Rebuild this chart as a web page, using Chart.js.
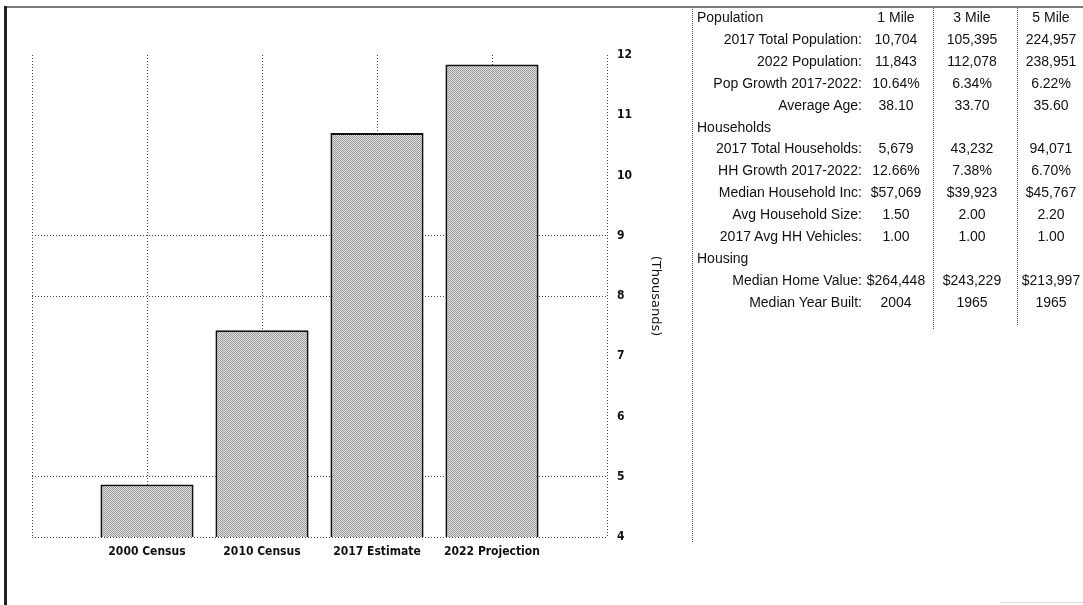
<!DOCTYPE html>
<html>
<head>
<meta charset="utf-8">
<script src="https://cdn.jsdelivr.net/npm/chart.js@4.4.1/dist/chart.umd.min.js"></script>
<style>
  html, body { margin: 0; padding: 0; background: #fff; }
  body { width: 1083px; height: 605px; position: relative; overflow: hidden; }
  #frame-top  { position: absolute; left: 4px; top: 6px; width: 1079px; height: 2px; background: #7a7a7a; }
  #frame-left { position: absolute; left: 4px; top: 6px; width: 3px; height: 599px; background: #222; }
  #chart-box  { position: absolute; left: 0; top: 0; width: 690px; height: 605px; }
  #table-box  { position: absolute; left: 0; top: 0; width: 1083px; height: 605px;
                font-family: "Liberation Sans", Arial, sans-serif; font-size: 14px; color: #111; }
  .row   { position: absolute; left: 0; width: 1083px; height: 21.9px; line-height: 21.9px; white-space: nowrap; }
  .lab   { position: absolute; left: 662px; width: 200px; text-align: right; }
  .sec   { position: absolute; left: 697px; }
  .val   { position: absolute; width: 90px; text-align: center; }
  .vline { position: absolute; width: 0; border-left: 1px dotted #555; }
  #foot  { position: absolute; left: 1000px; top: 602px; width: 83px; height: 1px; background: #d8d8d8; }
</style>
</head>
<body>
<div id="chart-box"><canvas id="popChart"></canvas></div>
<div id="table-box"></div>
<div id="frame-top"></div>
<div id="frame-left"></div>
<div id="foot"></div>

<script>
/* ── chart data (population, thousands) ───────────────────────────────── */
const categories = ['2000 Census', '2010 Census', '2017 Estimate', '2022 Projection'];
const population = [4.87, 7.43, 10.704, 11.843];
const yTicks     = [4, 5, 6, 7, 8, 9, 10, 11, 12];
const yTitle     = '(Thousands)';

/* ── demographics table ───────────────────────────────────────────────── */
const rowLabels = [
  'Population', '2017 Total Population:', '2022 Population:', 'Pop Growth 2017-2022:',
  'Average Age:', 'Households', '2017 Total Households:', 'HH Growth 2017-2022:',
  'Median Household Inc:', 'Avg Household Size:', '2017 Avg HH Vehicles:', 'Housing',
  'Median Home Value:', 'Median Year Built:',
];
const mile1 = ['1 Mile', '10,704', '11,843', '10.64%', '38.10', '', '5,679', '12.66%',
               '$57,069', '1.50', '1.00', '', '$264,448', '2004'];
const mile3 = ['3 Mile', '105,395', '112,078', '6.34%', '33.70', '', '43,232', '7.38%',
               '$39,923', '2.00', '1.00', '', '$243,229', '1965'];
const mile5 = ['5 Mile', '224,957', '238,951', '6.22%', '35.60', '', '94,071', '6.70%',
               '$45,767', '2.20', '1.00', '', '$213,997', '1965'];

/* ── table ────────────────────────────────────────────────────────────── */
function buildTable() {
  const box = document.getElementById('table-box');
  const colCenters = [896, 972, 1051];
  const cols = [mile1, mile3, mile5];

  rowLabels.forEach((label, i) => {
    const row = document.createElement('div');
    row.className = 'row';
    row.style.top = (7 + i * 21.9) + 'px';

    const l = document.createElement('span');
    l.className = label.endsWith(':') ? 'lab' : 'sec';
    l.textContent = label;
    row.appendChild(l);

    cols.forEach((col, c) => {
      if (!col[i]) return;
      const v = document.createElement('span');
      v.className = 'val';
      v.style.left = (colCenters[c] - 45) + 'px';
      v.textContent = col[i];
      row.appendChild(v);
    });
    box.appendChild(row);
  });

  // dotted separators
  [[692, 7, 535], [933, 7, 322], [1017, 7, 318]].forEach(([x, y, h]) => {
    const d = document.createElement('div');
    d.className = 'vline';
    d.style.left = x + 'px';
    d.style.top = y + 'px';
    d.style.height = h + 'px';
    box.appendChild(d);
  });
}

/* ── chart ────────────────────────────────────────────────────────────── */
function stipple() {
  const c = document.createElement('canvas');
  c.width = 2; c.height = 2;
  const g = c.getContext('2d');
  g.fillStyle = '#e2e2e2'; g.fillRect(0, 0, 2, 2);
  g.fillStyle = '#989898'; g.fillRect(0, 0, 1, 1); g.fillRect(1, 1, 1, 1);
  return g.createPattern(c, 'repeat');
}

function drawChart() {
  const tickFont = { family: "'DejaVu Sans Condensed', 'DejaVu Sans', sans-serif", size: 12, weight: 'bold' };
  // only these horizontal rules survive in the original print
  const shownRows = [4, 5, 8, 9];

  new Chart(document.getElementById('popChart'), {
    type: 'bar',
    data: {
      datasets: [{
        data: population.map((v, i) => ({ x: i, y: v })),
        backgroundColor: stipple(),
        borderColor: '#111',
        borderWidth: 2,
        borderSkipped: false,
        categoryPercentage: 1,
        barPercentage: 0.81,
      }],
    },
    options: {
      responsive: true, maintainAspectRatio: false, animation: false,
      layout: { padding: { left: 32, top: 55, right: 3, bottom: 0 } },
      plugins: { legend: { display: false }, tooltip: { enabled: false } },
      scales: {
        x: {
          type: 'linear', offset: false, min: -1, max: categories.length,
          afterFit: s => { s.height = 68; },
          grid: { offset: false, drawTicks: false, color: '#444', lineWidth: 1 },
          border: { display: false, dash: [1, 2] },
          ticks: {
            stepSize: 1, autoSkip: false, maxRotation: 0, padding: 8,
            color: '#111', font: tickFont,
            callback: v => categories[v] ?? '',
          },
        },
        y: {
          position: 'right', min: yTicks[0], max: yTicks[yTicks.length - 1],
          afterFit: s => { s.width = 80; },
          grid: {
            drawTicks: false, lineWidth: 1,
            color: c => shownRows.includes(c.tick && c.tick.value) ? '#444' : 'rgba(0,0,0,0)',
          },
          border: { display: false, dash: [1, 2] },
          ticks: {
            stepSize: 1, padding: 10, color: '#111', font: tickFont,
            callback: v => yTicks.includes(v) ? String(v) : '',
          },
          title: {
            display: true, text: yTitle, color: '#111',
            font: { family: "'DejaVu Sans', sans-serif", size: 13 },
            padding: { top: 24, bottom: 0 },
          },
        },
      },
    },
  });
}

document.addEventListener('DOMContentLoaded', () => {
  buildTable();
  drawChart();
});
</script>
</body>
</html>
